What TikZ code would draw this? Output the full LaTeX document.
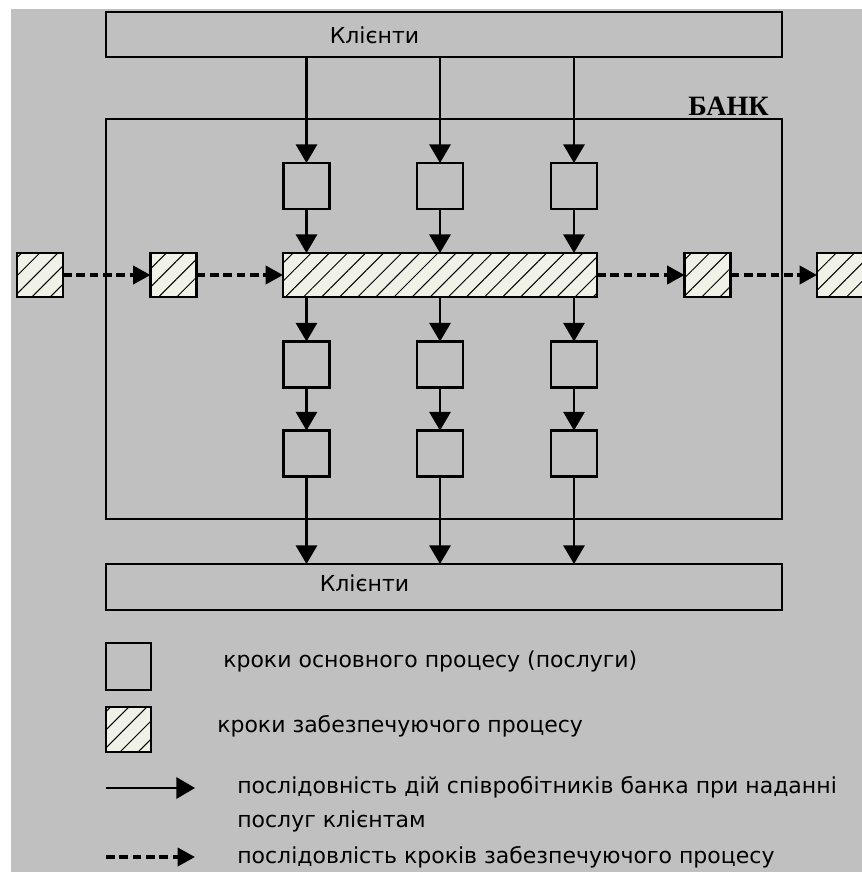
\documentclass[tikz,border=0pt]{standalone}
\usepackage{fontspec}
\setmainfont{DejaVu Sans}
\newfontfamily\bankfont{Liberation Serif}
\usetikzlibrary{arrows.meta,patterns.meta}
\definecolor{panel}{HTML}{C0C0C0}
\definecolor{hatchbg}{HTML}{F0F2E8}

\begin{document}
\begin{tikzpicture}[x=0.75pt,y=-0.75pt,
  box/.style={draw=black,line width=1.6pt,inner sep=0pt,outer sep=0pt},
  stepbox/.style={box,minimum width=34.5pt,minimum height=34.5pt},
  hatched/.style={box,preaction={fill=hatchbg},
    pattern={Lines[angle=45,distance=9.6pt,line width=0.75pt]}},
  supbox/.style={hatched,minimum width=34.5pt,minimum height=33pt},
  flow/.style={line width=1.6pt,-{Triangle[width=16pt,length=14pt]}},
  supflow/.style={line width=2.8pt,dash pattern=on 6.5pt off 3.5pt,
    -{Triangle[width=13.5pt,length=13pt]}},
  lbl/.style={font=\fontsize{16.5}{19}\selectfont,inner sep=0pt},
]
% page and grey panel
\fill[white] (0,0) rectangle (862,872);
\fill[panel] (11,9) rectangle (862,872);
\useasboundingbox (0,0) rectangle (862,872);

% clients above and below, the bank between them
\node[box,minimum width=507pt,minimum height=34.2pt] (top) at (444,34.5) {};
\node[lbl] (toplbl) at (374.5,35) {Клієнти};
\node[box,minimum width=507pt,minimum height=300pt] (bank) at (444,319) {};
\node[font=\bankfont\bfseries\fontsize{21}{24}\selectfont,anchor=base,inner sep=0pt]
  (banklbl) at (728.5,115) {БАНК};
\node[box,minimum width=507pt,minimum height=34.5pt] (bottom) at (444,587) {};
\node[lbl] (botlbl) at (364.5,583) {Клієнти};

% steps of the main process
\foreach \c/\x in {a/306.5,b/440,c/574}{
  \node[stepbox] (u\c) at (\x,186) {};
  \node[stepbox] (m\c) at (\x,364.5) {};
  \node[stepbox] (l\c) at (\x,453.5) {};
}
% supporting process
\node[hatched,minimum width=235.5pt,minimum height=33pt] (bar) at (440,275) {};
\node[supbox] (s1) at (40,275) {};
\node[supbox] (s2) at (173.5,275) {};
\node[supbox] (s3) at (707.5,275) {};
\node[supbox] (s4) at (840,275) {};

% main flow
\foreach \c in {a,b,c}{
  \draw[flow] (top.south -| u\c) -- (u\c.north);
  \draw[flow] (u\c.south) -- (bar.north -| u\c);
  \draw[flow] (bar.south -| m\c) -- (m\c.north);
  \draw[flow] (m\c.south) -- (l\c.north);
  \draw[flow] (l\c.south) -- (bottom.north -| l\c);
}
% supporting flow
\draw[supflow] (s1.east) -- (s2.west);
\draw[supflow] (s2.east) -- (bar.west);
\draw[supflow] (bar.east) -- (s3.west);
\draw[supflow] (s3.east) -- (s4.west);

% legend
\node[box,minimum width=33.75pt,minimum height=35.25pt] (lgstep) at (128.5,666.5) {};
\node[lbl,anchor=base west] (lgsteptxt) at (223,667) {кроки основного процесу (послуги)};
\node[hatched,minimum width=33.75pt,minimum height=33.75pt] (lgsup) at (128.5,729.5) {};
\node[lbl,anchor=base west] (lgsuptxt) at (217,732) {кроки забезпечуючого процесу};
\coordinate (f0) at (106,788);
\coordinate (f1) at (195,788);
\draw[flow] (f0) -- (f1);
\node[lbl,anchor=base west] (lgflowa) at (237,793) {послідовність дій співробітників банка при наданні};
\node[lbl,anchor=base west] (lgflowb) at (237,827) {послуг клієнтам};
\coordinate (d0) at (106,857);
\coordinate (d1) at (195,857);
\draw[supflow] (d0) -- (d1);
\node[lbl,anchor=base west] (lgsupflow) at (237,863) {послідовлість кроків забезпечуючого процесу};
\end{tikzpicture}
\end{document}
